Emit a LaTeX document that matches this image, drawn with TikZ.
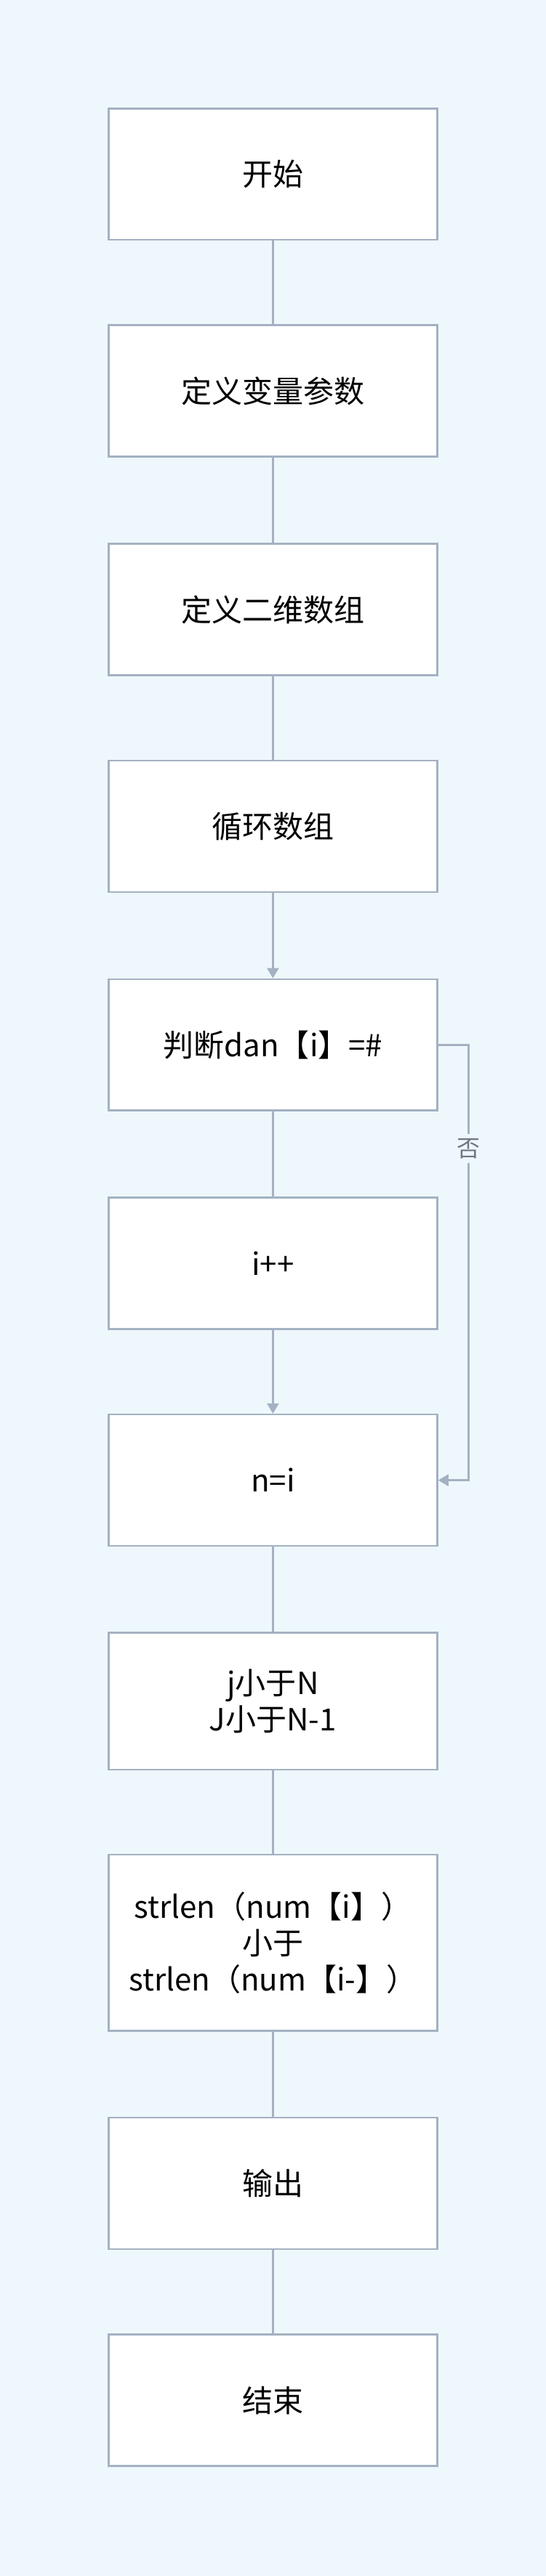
\documentclass[tikz,border=0pt]{standalone}
\usepackage{fontspec}
\setmainfont{Noto Sans CJK SC}
\usetikzlibrary{arrows.meta}
\definecolor{bgblue}{HTML}{EEF7FB}
\definecolor{linegray}{HTML}{A3B1C2}
\definecolor{labelgray}{HTML}{707780}
\begin{document}
\begin{tikzpicture}[x=1.13pt,y=-1.13pt,
  stepbox/.style={draw=linegray, fill=white, line width=1.3pt, minimum width=226pt, minimum height=90.4pt, align=center, font=\fontsize{21}{25}\selectfont, inner sep=2pt},
  link/.style={draw=linegray, line width=1.3pt},
  arrowlink/.style={link, -{Triangle[width=8pt,length=7pt]}},
  nolabel/.style={fill=bgblue, text=labelgray, font=\fontsize{16}{19}\selectfont, inner sep=3pt}]
  \fill[bgblue] (0,0) rectangle (332,1568);
  \useasboundingbox (0,0) rectangle (332,1568);
  \node [stepbox](start) at (166,106){开始};
  \node [stepbox](vars) at (166,238){定义变量参数};
  \node [stepbox](arr) at (166,371){定义二维数组};
  \node [stepbox](loop) at (166,503){循环数组};
  \node [stepbox](judge) at (166,636){判断dan【i】=\#};
  \node [stepbox](incr) at (166,769){i++};
  \node [stepbox](assign) at (166,901){n=i};
  \node [stepbox, minimum height=94pt](cond) at (166,1035.5){j小于N\\J小于N-1};
  \node [stepbox, minimum height=121pt](cmp) at (166,1182.5){strlen（num【i】）\\小于\\strlen（num【i-】）};
  \node [stepbox](out) at (166,1329){输出};
  \node [stepbox](stop) at (166,1461){结束};
  \coordinate (turn1) at (285,636);
  \coordinate (turn2) at (285,901);
  \draw [link] (start) -- (vars);
  \draw [link] (vars) -- (arr);
  \draw [link] (arr) -- (loop);
  \draw [arrowlink] (loop) -- (judge);
  \draw [link] (judge) -- (incr);
  \draw [arrowlink] (incr) -- (assign);
  \draw [arrowlink] (judge.east) -- (turn1) -- (turn2) -- (assign.east);
  \node [nolabel](nolbl) at (285,699){否};
  \draw [link] (assign) -- (cond);
  \draw [link] (cond) -- (cmp);
  \draw [link] (cmp) -- (out);
  \draw [link] (out) -- (stop);
\end{tikzpicture}
\end{document}
